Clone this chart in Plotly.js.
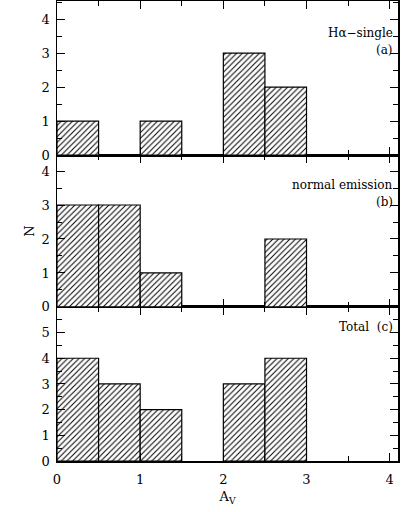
<!DOCTYPE html>
<html>
<head>
<meta charset="utf-8">
<script src="https://cdn.plot.ly/plotly-3.0.1.min.js"></script>
<style>html,body{margin:0;padding:0;background:#fff}#chart{width:412px;height:512px}</style>
</head>
<body>
<div id="chart"></div>
<script>
// Bin left edges of A_V histogram (bin width 0.5)
const binEdges = [0, 0.5, 1.0, 1.5, 2.0, 2.5, 3.0, 3.5];
const binWidth = 0.5;
// Counts per bin
const countsHaSingle = [1, 0, 1, 0, 3, 2, 0, 0];      // panel (a)
const countsNormal   = [3, 3, 1, 0, 0, 2, 0, 0];      // panel (b)
const countsTotal    = [4, 3, 2, 0, 3, 4, 0, 0];      // panel (c)
const panelLabelsA = ["Hα−single", "(a)"];
const panelLabelsB = ["normal emission", "(b)"];
const panelLabelsC = ["Total  (c)"];

function barTrace(counts, xa, ya) {
  const xs = [], ys = [];
  counts.forEach((c, i) => { if (c > 0) { xs.push(binEdges[i] + binWidth / 2); ys.push(c); } });
  return {
    type: 'bar', x: xs, y: ys, width: binWidth, xaxis: xa, yaxis: ya,
    marker: {
      color: 'white',
      line: {color: 'black', width: 1.2},
      pattern: {shape: '/', fgcolor: 'black', bgcolor: 'white', size: 4, solidity: 0.25}
    },
    hoverinfo: 'skip', showlegend: false
  };
}

const font = {family: 'DejaVu Serif, serif', size: 13, color: 'black'};
const annFont = {family: 'DejaVu Serif, serif', size: 12, color: 'black'};
const xBase = {
  range: [0, 4.1], dtick: 1, tick0: 0, ticks: 'inside', ticklen: 8, tickwidth: 1,
  tickcolor: 'black', mirror: 'ticks', showline: true, linecolor: 'black', linewidth: 1.5,
  showgrid: false, zeroline: false,
  minor: {dtick: 0.5, ticks: 'inside', ticklen: 5, tickcolor: 'black', showgrid: false},
  tickfont: font, ticklabelstandoff: 6
};
const yBase = {
  dtick: 1, tick0: 0, ticks: 'inside', ticklen: 8, tickwidth: 1, tickcolor: 'black',
  mirror: 'ticks', showline: true, linecolor: 'black', linewidth: 1.5,
  showgrid: false, zeroline: false,
  minor: {dtick: 0.5, ticks: 'inside', ticklen: 5, tickcolor: 'black', showgrid: false},
  tickfont: font, ticklabelstandoff: 3
};

const data = [
  barTrace(countsTotal, 'x', 'y'),
  barTrace(countsNormal, 'x2', 'y2'),
  barTrace(countsHaSingle, 'x3', 'y3')
];

function ann(text, x, y, yref) {
  return {text: text, x: x, y: y, xref: 'x', yref: yref, xanchor: 'right', yanchor: 'middle',
          showarrow: false, font: annFont};
}

const layout = {
  width: 412, height: 512,
  margin: {l: 57, r: 14, t: 1, b: 51},
  paper_bgcolor: 'white', plot_bgcolor: 'white',
  font: font, bargap: 0,
  xaxis: Object.assign({}, xBase, {anchor: 'y', domain: [0, 1],
    title: {text: 'A<sub>V</sub>', font: font, standoff: 6}}),
  xaxis2: Object.assign({}, xBase, {anchor: 'y2', matches: 'x', showticklabels: false}),
  xaxis3: Object.assign({}, xBase, {anchor: 'y3', matches: 'x', showticklabels: false}),
  yaxis: Object.assign({}, yBase, {domain: [0, 0.335], range: [0, 6], anchor: 'x',
    tickvals: [0,1,2,3,4,5]}),
  yaxis2: Object.assign({}, yBase, {domain: [0.335, 0.665], range: [0, 4.47], anchor: 'x2',
    tickvals: [0,1,2,3,4], title: {text: 'N', font: font, standoff: 4}}),
  yaxis3: Object.assign({}, yBase, {domain: [0.665, 1], range: [0, 4.53], anchor: 'x3',
    tickvals: [0,1,2,3,4]}),
  annotations: [
    ann(panelLabelsA[0], 4.06, 3.6, 'y3'),
    ann(panelLabelsA[1], 4.06, 3.1, 'y3'),
    ann(panelLabelsB[0], 4.06, 3.6, 'y2'),
    ann(panelLabelsB[1], 4.06, 3.1, 'y2'),
    ann(panelLabelsC[0], 4.06, 5.2, 'y')
  ]
};

Plotly.newPlot('chart', data, layout, {displayModeBar: false, staticPlot: true});
</script>
</body>
</html>
